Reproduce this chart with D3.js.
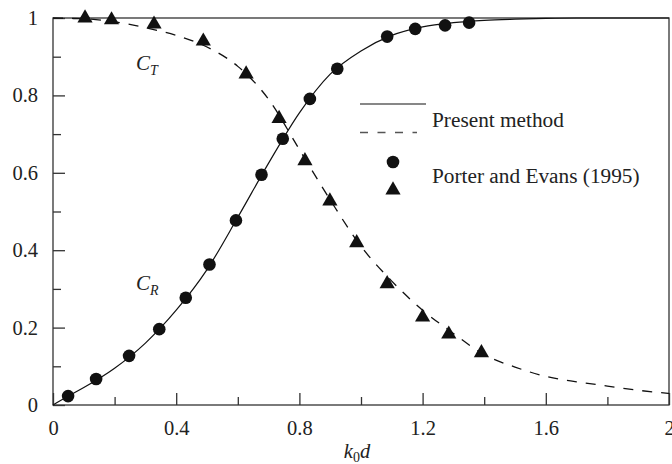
<!DOCTYPE html>
<html>
<head>
<meta charset="utf-8">
<script src="https://cdn.jsdelivr.net/npm/d3@7"></script>
<style>
  body { margin: 0; background: #fff; }
  svg text { fill: #222; }
</style>
</head>
<body>
<div id="chart"></div>
<script>
// Present method curves
const curveX = [0, 0.05, 0.1, 0.2, 0.3, 0.4, 0.5, 0.6, 0.7, 0.8, 0.9, 1.0, 1.1, 1.2, 1.3, 1.4, 1.5, 1.6, 1.7, 1.8, 1.9, 2.0];
const crCurve = [0, 0.023, 0.045, 0.095, 0.16, 0.245, 0.35, 0.485, 0.625, 0.755, 0.855, 0.915, 0.955, 0.977, 0.988, 0.994, 0.997, 0.999, 1.0, 1.0, 1.0, 1.0];
const ctCurve = [1.0, 0.999, 0.998, 0.99, 0.975, 0.955, 0.925, 0.875, 0.79, 0.66, 0.53, 0.41, 0.32, 0.245, 0.185, 0.13, 0.098, 0.074, 0.06, 0.049, 0.038, 0.03];

// Porter and Evans (1995)
const crPointX = [0.049, 0.14, 0.247, 0.345, 0.431, 0.508, 0.594, 0.677, 0.746, 0.834, 0.923, 1.085, 1.176, 1.273, 1.351];
const crPointY = [0.023, 0.067, 0.127, 0.196, 0.277, 0.363, 0.477, 0.595, 0.688, 0.791, 0.869, 0.952, 0.972, 0.981, 0.988];
const ctPointX = [0.104, 0.19, 0.328, 0.488, 0.627, 0.734, 0.818, 0.899, 0.986, 1.085, 1.2, 1.285, 1.391];
const ctPointY = [1.0, 0.995, 0.984, 0.94, 0.855, 0.74, 0.631, 0.527, 0.419, 0.313, 0.227, 0.183, 0.135];

const xMajor = [0, 0.4, 0.8, 1.2, 1.6, 2];
const xMinor = [0.2, 0.6, 1.0, 1.4, 1.8];
const yMajor = [0, 0.2, 0.4, 0.6, 0.8, 1];
const yMinor = [0.1, 0.3, 0.5, 0.7, 0.9];

const width = 672, height = 464;
const plot = { left: 53, right: 669, top: 18, bottom: 405 };
const serif = "'Liberation Serif', 'Times New Roman', Times, 'Nimbus Roman', FreeSerif, 'DejaVu Serif', serif";

let svg = d3.select('#chart').append('svg')
    .attr('width', width)
    .attr('height', height)
    .attr('font-family', serif);

let xScale = d3.scaleLinear().domain([0, 2]).range([plot.left, plot.right]);
let yScale = d3.scaleLinear().domain([0, 1]).range([plot.bottom, plot.top]);

const axisColor = '#333';

// Frame
svg.append('rect')
    .attr('x', plot.left).attr('y', plot.top)
    .attr('width', plot.right - plot.left)
    .attr('height', plot.bottom - plot.top)
    .attr('fill', 'none')
    .attr('stroke', axisColor)
    .attr('stroke-width', 1.3);

// Ticks point inward
function styleAxis(g) {
    g.attr('font-family', serif).attr('font-size', 20.5);
    g.select('.domain').remove();
    g.selectAll('line').attr('stroke', axisColor).attr('stroke-width', 1.3);
    g.selectAll('text').attr('fill', '#222');
}

svg.append('g')
    .attr('transform', `translate(0,${plot.bottom})`)
    .call(d3.axisBottom(xScale).tickValues(xMajor).tickSize(-12).tickPadding(15).tickFormat(d3.format('')))
    .call(styleAxis);

svg.append('g')
    .attr('transform', `translate(0,${plot.bottom})`)
    .call(d3.axisBottom(xScale).tickValues(xMinor).tickSize(-8).tickFormat(''))
    .call(styleAxis);

svg.append('g')
    .attr('transform', `translate(${plot.left},0)`)
    .call(d3.axisLeft(yScale).tickValues(yMajor).tickSize(-12).tickPadding(15).tickFormat(d3.format('')))
    .call(styleAxis);

svg.append('g')
    .attr('transform', `translate(${plot.left},0)`)
    .call(d3.axisLeft(yScale).tickValues(yMinor).tickSize(-8).tickFormat(''))
    .call(styleAxis);

// Curves
let line = d3.line()
    .x(d => xScale(d[0]))
    .y(d => yScale(d[1]))
    .curve(d3.curveMonotoneX);

svg.append('path')
    .datum(curveX.map((x, i) => [x, crCurve[i]]))
    .attr('d', line)
    .attr('fill', 'none')
    .attr('stroke', '#111')
    .attr('stroke-width', 1.2);

svg.append('path')
    .datum(curveX.map((x, i) => [x, ctCurve[i]]))
    .attr('d', line)
    .attr('fill', 'none')
    .attr('stroke', '#111')
    .attr('stroke-width', 1.3)
    .attr('stroke-dasharray', '10,9');

// Markers
svg.selectAll('circle.cr')
    .data(crPointX.map((x, i) => [x, crPointY[i]]))
    .enter()
    .append('circle')
    .attr('class', 'cr')
    .attr('cx', d => xScale(d[0]))
    .attr('cy', d => yScale(d[1]))
    .attr('r', 6.3)
    .attr('fill', '#111');

let tri = d3.symbol().type(d3.symbolTriangle).size(100);

svg.selectAll('path.ct')
    .data(ctPointX.map((x, i) => [x, ctPointY[i]]))
    .enter()
    .append('path')
    .attr('class', 'ct')
    .attr('d', tri)
    .attr('transform', d => `translate(${xScale(d[0])},${yScale(d[1])})`)
    .attr('fill', '#111');

// Curve labels
function subLabel(x, y, main, sub) {
    let t = svg.append('text').attr('x', x).attr('y', y).attr('font-size', 21);
    t.append('tspan').attr('font-style', 'italic').text(main);
    t.append('tspan').attr('font-style', 'italic').attr('font-size', 14).attr('dy', 5).text(sub);
}
subLabel(136, 70, 'C', 'T');
subLabel(136, 290, 'C', 'R');

// Axis title
let xt = svg.append('text')
    .attr('x', 357).attr('y', 458)
    .attr('text-anchor', 'middle')
    .attr('font-size', 20.5);
xt.append('tspan').attr('font-style', 'italic').text('k');
xt.append('tspan').attr('font-size', 14).attr('dy', 4).text('0');
xt.append('tspan').attr('font-style', 'italic').attr('dy', -4).text('d');

// Legend
let legend = svg.append('g');
legend.append('line')
    .attr('x1', 360).attr('x2', 426).attr('y1', 104).attr('y2', 104)
    .attr('stroke', '#111').attr('stroke-width', 1.2);
legend.append('line')
    .attr('x1', 360).attr('x2', 417).attr('y1', 132.5).attr('y2', 132.5)
    .attr('stroke', '#555').attr('stroke-width', 1.3)
    .attr('stroke-dasharray', '8,9.5');
legend.append('text').attr('x', 432).attr('y', 127).attr('font-size', 21.3).text('Present method');
legend.append('circle').attr('cx', 393).attr('cy', 162).attr('r', 6.3).attr('fill', '#111');
legend.append('path').attr('d', tri).attr('transform', 'translate(393,190)').attr('fill', '#111');
legend.append('text').attr('x', 432).attr('y', 183).attr('font-size', 21.3).text('Porter and Evans (1995)');
</script>
</body>
</html>
